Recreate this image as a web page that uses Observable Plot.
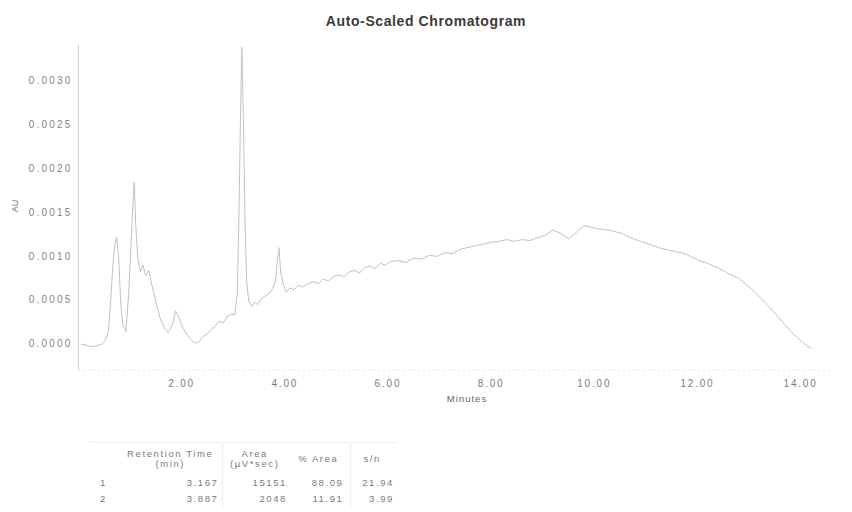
<!DOCTYPE html>
<html>
<head>
<meta charset="utf-8">
<script src="https://cdn.jsdelivr.net/npm/d3@7"></script>
<script src="https://cdn.jsdelivr.net/npm/@observablehq/plot@0.6"></script>
<style>
  html, body { margin: 0; padding: 0; background: #fff; }
  body { width: 852px; height: 512px; position: relative; overflow: hidden; font-family: "Liberation Sans", Arial, sans-serif; }
  #title { position: absolute; left: 0; width: 852px; top: 13px; text-align: center; font-size: 14px; font-weight: bold; color: #3a3a3a; letter-spacing: 0.6px; }
  #chart { position: absolute; left: 0; top: 30px; }
  #ylab { position: absolute; left: 9px; top: 201px; font-size: 9px; color: #777; transform: rotate(-90deg); transform-origin: center; }
  #xlab { position: absolute; left: 467px; top: 393px; transform: translateX(-50%); font-size: 9.5px; color: #666; letter-spacing: 1px; }
  #tbl { position: absolute; left: 90px; top: 442px; border-collapse: collapse; table-layout: fixed; width: 307px; font-size: 9.5px; color: #7a7a7a; letter-spacing: 1.6px; }
  #tbl td, #tbl th { padding: 0 3px 0 0; white-space: nowrap; box-sizing: border-box; }
  #tbl th { font-weight: normal; text-align: center; line-height: 10px; height: 32px; border-top: 1px solid #eee; }
  #tbl td { text-align: right; height: 16px; }
  #tbl td.id { text-align: left; padding-left: 10px; }
  #tbl .sep { border-left: 1px solid #eee; }
  .yax text { letter-spacing: 2.2px; }
  .xax text { letter-spacing: 1.8px; }
</style>
</head>
<body>
<div id="title">Auto-Scaled Chromatogram</div>
<div id="chart"></div>
<div id="ylab">AU</div>
<div id="xlab">Minutes</div>
<table id="tbl"></table>
<script>
// Trace: retention time (min) and absorbance (AU)
const time = [0.05,0.15,0.25,0.35,0.45,0.52,0.58,0.62,0.66,0.70,0.74,0.78,0.82,0.86,0.92,0.97,1.02,1.06,1.08,1.11,1.15,1.20,1.25,1.30,1.36,1.42,1.50,1.58,1.66,1.74,1.82,1.88,1.94,2.02,2.10,2.18,2.26,2.34,2.42,2.50,2.58,2.66,2.72,2.80,2.88,2.96,3.03,3.08,3.11,3.14,3.167,3.20,3.23,3.26,3.30,3.36,3.42,3.48,3.55,3.62,3.70,3.76,3.82,3.86,3.887,3.92,3.97,4.03,4.10,4.18,4.26,4.35,4.45,4.55,4.65,4.75,4.85,4.95,5.05,5.15,5.25,5.35,5.45,5.55,5.65,5.75,5.85,5.95,6.05,6.20,6.35,6.50,6.65,6.80,6.95,7.10,7.25,7.40,7.55,7.70,7.85,8.00,8.15,8.30,8.45,8.60,8.75,8.90,9.05,9.20,9.35,9.50,9.65,9.80,9.95,10.10,10.25,10.40,10.55,10.70,10.85,11.00,11.15,11.30,11.45,11.60,11.75,11.90,12.05,12.20,12.35,12.50,12.65,12.80,12.95,13.10,13.25,13.40,13.55,13.70,13.85,14.00,14.20];
const au = [0.00000,-0.00001,-0.00003,-0.00002,0.00000,0.00004,0.00015,0.00045,0.00085,0.00112,0.00122,0.00098,0.00045,0.00022,0.00014,0.00055,0.00115,0.00165,0.00184,0.00135,0.00098,0.00082,0.00090,0.00078,0.00084,0.00068,0.00048,0.00030,0.00019,0.00013,0.00022,0.00038,0.00031,0.00019,0.00011,0.00005,0.00001,0.00003,0.00009,0.00012,0.00017,0.00021,0.00026,0.00024,0.00031,0.00034,0.00033,0.00058,0.00145,0.00255,0.00338,0.00245,0.00135,0.00072,0.00049,0.00043,0.00048,0.00045,0.00052,0.00055,0.00058,0.00063,0.00072,0.00098,0.00110,0.00082,0.00068,0.00059,0.00064,0.00062,0.00067,0.00065,0.00069,0.00071,0.00069,0.00074,0.00072,0.00077,0.00079,0.00077,0.00082,0.00084,0.00081,0.00087,0.00089,0.00086,0.00092,0.00090,0.00094,0.00095,0.00093,0.00098,0.00097,0.00101,0.00100,0.00104,0.00103,0.00108,0.00110,0.00112,0.00114,0.00116,0.00117,0.00119,0.00117,0.00119,0.00118,0.00121,0.00124,0.00130,0.00126,0.00120,0.00127,0.00135,0.00133,0.00131,0.00130,0.00128,0.00126,0.00121,0.00118,0.00115,0.00112,0.00109,0.00107,0.00105,0.00103,0.00099,0.00095,0.00092,0.00088,0.00084,0.00079,0.00075,0.00068,0.00060,0.00051,0.00042,0.00032,0.00022,0.00012,0.00004,-0.00005];

// Axis ticks
const xTicks = [2, 4, 6, 8, 10, 12, 14];
const yTicks = [0, 0.0005, 0.0010, 0.0015, 0.0020, 0.0025, 0.0030];

// Peak table
const tableHeaders = ["", "Retention Time<br>(min)", "Area<br>(µV*sec)", "% Area", "s/n"];
const peakIds = ["1", "2"];
const retentionTimes = ["3.167", "3.887"];
const areas = ["15151", "2048"];
const pctAreas = ["88.09", "11.91"];
const signalNoise = ["21.94", "3.99"];

const trace = time.map((t, i) => ({t, v: au[i]}));

const chart = Plot.plot({
  width: 852,
  height: 382,
  marginLeft: 78,
  marginRight: 21,
  marginTop: 15,
  marginBottom: 42,
  style: {fontFamily: "Liberation Sans, Arial, sans-serif", background: "#fff"},
  x: {domain: [0, 14.6]},
  y: {domain: [-0.0003, 0.0034]},
  marks: [
    Plot.ruleY([-0.0003], {stroke: "#e6e6e6", strokeDasharray: "2,3"}),
    Plot.ruleX([0], {stroke: "#d0d0d0"}),
    Plot.axisX({ticks: xTicks, tickFormat: d3.format(".2f"), tickSize: 0, tickPadding: 9, fontSize: 10, fill: "#7a7a7a", label: null, className: "xax"}),
    Plot.axisY({ticks: yTicks, tickFormat: d3.format(".4f"), tickSize: 0, tickPadding: 6, fontSize: 10, fill: "#858585", label: null, className: "yax"}),
    Plot.line(trace, {x: "t", y: "v", stroke: "#c2c2c2", strokeWidth: 1})
  ]
});
document.getElementById("chart").appendChild(chart);

// Build the table from the arrays
const tbl = d3.select("#tbl");
const widths = [32, 100, 68, 60, 47];
tbl.append("tr").selectAll("th").data(tableHeaders).join("th")
  .attr("class", (d, i) => i === 2 || i === 4 ? "sep" : null)
  .style("width", (d, i) => widths[i] + "px")
  .html(d => d);
peakIds.forEach((id, r) => {
  const row = [id, retentionTimes[r], areas[r], pctAreas[r], signalNoise[r]];
  tbl.append("tr").selectAll("td").data(row).join("td")
    .attr("class", (d, i) => (i === 0 ? "id" : "") + (i === 2 || i === 4 ? " sep" : ""))
    .style("padding-right", (d, i) => i === 3 ? "6px" : null)
    .text(d => d);
});
</script>
</body>
</html>
